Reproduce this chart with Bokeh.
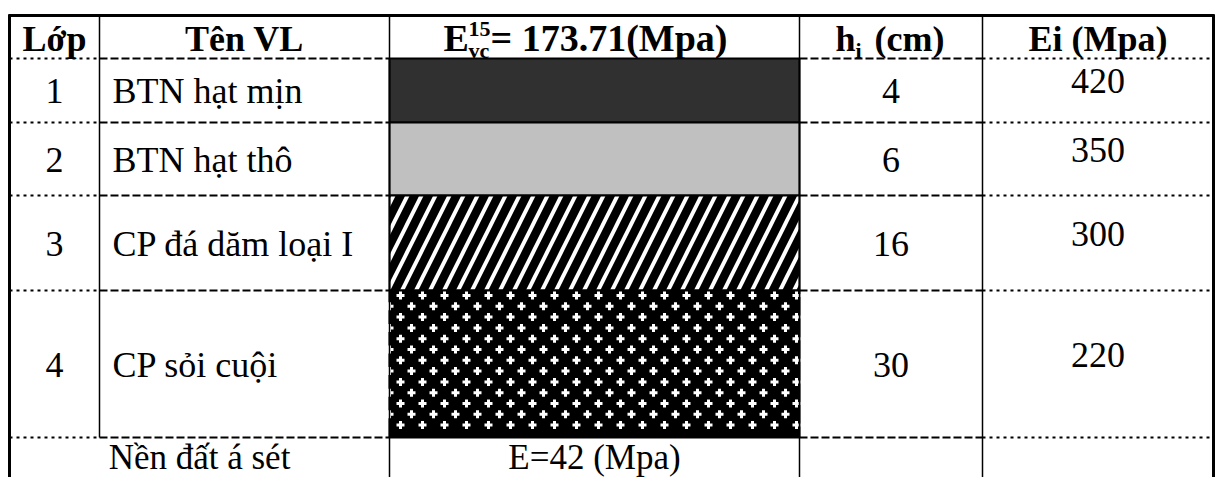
import numpy as np
from bokeh.plotting import figure
from bokeh.models import Range1d, ColumnDataSource
from bokeh.core.properties import value
from bokeh.embed import file_html
from bokeh.resources import INLINE

# ---------------- data ----------------
layers = ["1", "2", "3", "4"]
materials = ["BTN hạt mịn", "BTN hạt thô", "CP đá dăm loại I", "CP sỏi cuội"]
thickness_cm = [4, 6, 16, 30]
modulus_mpa = [420, 350, 300, 220]
header_layer = "Lớp"
header_name = "Tên VL"
header_e_main = "E"
header_e_sub = "vc"
header_e_sup = "15"
e_vc = 173.71
header_h_main = "h"
header_h_sub = "i"
header_h_rest = "(cm)"
header_ei = "Ei (Mpa)"
subgrade_name = "Nền đất á sét"
subgrade_e = 42

# ---------------- layout (page pixels) ----------------
W, H = 1217, 477
X0, Y0 = 0, 0
col_x = [9, 99, 389, 799, 982, 1213]
row_y = [15, 58, 122, 195, 290, 437, 520]
FONT = value("Liberation Serif")


def tb(baseline, size):
    """text baseline correction: rendered baseline sits ~size/3 below y"""
    return baseline - size / 3.0


p = figure(width=W, height=H, output_backend="svg", toolbar_location=None,
           x_range=Range1d(X0, X0 + W), y_range=Range1d(Y0 + H, Y0),
           x_axis_location=None, y_axis_location=None, min_border=0,
           outline_line_color=None)
p.grid.visible = False

# ---------------- material swatches (E column) ----------------
L, R = col_x[2], col_x[3]
p.quad(left=L, right=R, top=row_y[1], bottom=row_y[2], fill_color="#303030",
       line_color="black", line_width=2)
p.quad(left=L, right=R, top=row_y[2], bottom=row_y[3], fill_color="#c0c0c0",
       line_color="black", line_width=2)
p.quad(left=L, right=R, top=row_y[3], bottom=row_y[4], fill_color="white",
       hatch_pattern="right_diagonal_line", hatch_color="black",
       hatch_scale=28, hatch_weight=8.5, line_color="black", line_width=2)
p.quad(left=L, right=R, top=row_y[4], bottom=row_y[5], fill_color="black",
       line_color="black", line_width=2)
# white crosses texture of the gravel layer
gx, gy = [], []
for k, yy in enumerate(np.arange(row_y[4] + 5, row_y[5] - 4, 10.8)):
    start = L + 11 if k % 2 == 0 else L
    for xx in np.arange(start, R - 2, 22):
        gx.append(xx)
        gy.append(yy)
p.scatter(gx, gy, marker="plus", size=8, fill_color="white", line_color=None)

# ---------------- grid lines ----------------
hy = row_y[1:6]
dot_x0 = [col_x[0]] * len(hy) + [col_x[4]] * len(hy)
dot_x1 = [col_x[1]] * len(hy) + [col_x[5]] * len(hy)
p.segment(x0=dot_x0, x1=dot_x1, y0=hy + hy, y1=hy + hy, line_color="black",
          line_width=2, line_dash="3 4")
dash_x0 = [col_x[1]] * len(hy) + [col_x[3]] * len(hy)
dash_x1 = [col_x[2]] * len(hy) + [col_x[4]] * len(hy)
p.segment(x0=dash_x0, x1=dash_x1, y0=hy + hy, y1=hy + hy, line_color="black",
          line_width=2, line_dash="8 3")

p.segment(x0=[col_x[1]], x1=[col_x[1]], y0=[row_y[0]], y1=[row_y[5]],
          line_color="black", line_width=1.5)
p.segment(x0=col_x[2:5], x1=col_x[2:5], y0=[row_y[0]] * 3, y1=[row_y[6]] * 3,
          line_color="black", line_width=1.5)
p.segment(x0=[col_x[0], col_x[5]], x1=[col_x[0], col_x[5]],
          y0=[row_y[0] - 1] * 2, y1=[row_y[6]] * 2, line_color="black", line_width=3)
p.segment(x0=[col_x[0] - 1], x1=[col_x[5] + 1], y0=[row_y[0]], y1=[row_y[0]],
          line_color="black", line_width=3)

# ---------------- header texts ----------------
HB = 50  # header baseline
bold = dict(text_font=FONT, text_font_style="bold", text_baseline="alphabetic",
            text_color="black")
p.text(x=[(col_x[0] + col_x[1]) / 2, (col_x[1] + col_x[2]) / 2, (col_x[4] + col_x[5]) / 2],
       y=[tb(HB, 36)] * 3, text=[header_layer, header_name, header_ei],
       text_font_size="36px", text_align="center", **bold)

ex = 443
p.text(x=[ex], y=[tb(HB, 38)], text=[header_e_main], text_font_size="38px",
       text_align="left", **bold)
p.text(x=[ex + 25], y=[tb(57, 22)], text=[header_e_sub], text_font_size="22px",
       text_align="left", **bold)
p.text(x=[ex + 25], y=[tb(36, 22)], text=[header_e_sup], text_font_size="22px",
       text_align="left", **bold)
p.text(x=[ex + 47], y=[tb(HB, 38)], text=["= %.2f(Mpa)" % e_vc],
       text_font_size="38px", text_align="left", **bold)

hx = 835
p.text(x=[hx], y=[tb(HB, 36)], text=[header_h_main], text_font_size="36px",
       text_align="left", **bold)
p.text(x=[hx + 20], y=[tb(57, 22)], text=[header_h_sub], text_font_size="22px",
       text_align="left", **bold)
p.text(x=[hx + 39], y=[tb(HB, 36)], text=[header_h_rest], text_font_size="36px",
       text_align="left", **bold)

# ---------------- body texts ----------------
centers = [(row_y[i] + row_y[i + 1]) / 2 for i in range(1, 5)]
base = [tb(c + 12.5, 36) for c in centers]
base_ei = [tb(c + 2.5, 36) for c in centers]

src = ColumnDataSource(dict(layer=layers, name=materials,
                            h=[str(v) for v in thickness_cm],
                            e=[str(v) for v in modulus_mpa],
                            yb=base, ye=base_ei,
                            xl=[(col_x[0] + col_x[1]) / 2] * 4,
                            xn=[col_x[1] + 13] * 4,
                            xh=[(col_x[3] + col_x[4]) / 2] * 4,
                            xe=[(col_x[4] + col_x[5]) / 2] * 4))
common = dict(source=src, text_font=FONT, text_font_size="36px",
              text_baseline="alphabetic", text_color="black")
p.text(x="xl", y="yb", text="layer", text_align="center", **common)
p.text(x="xn", y="yb", text="name", text_align="left", **common)
p.text(x="xh", y="yb", text="h", text_align="center", **common)
p.text(x="xe", y="ye", text="e", text_align="center", **common)

# subgrade row
p.text(x=[(col_x[0] + col_x[2]) / 2, (col_x[2] + col_x[3]) / 2], y=[tb(469, 35)] * 2,
       text=[subgrade_name, "E=%d (Mpa)" % subgrade_e], text_font=FONT,
       text_font_size="35px", text_align="center", text_baseline="alphabetic",
       text_color="black")

open("out.html", "w").write(file_html(p, INLINE))
